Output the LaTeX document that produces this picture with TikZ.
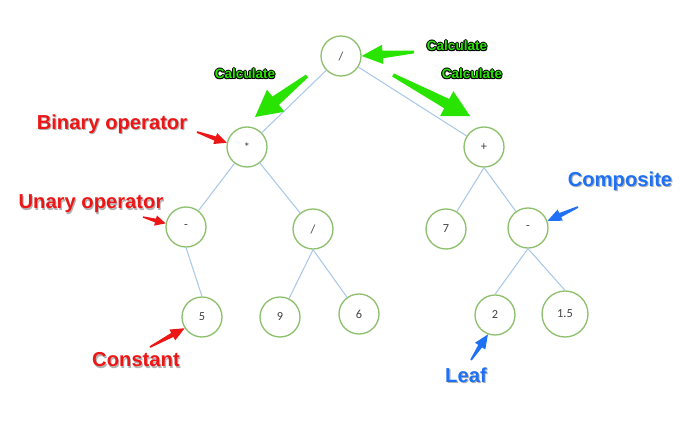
\documentclass[tikz,border=0pt]{standalone}
\usepackage{fontspec}
\setmainfont{Liberation Sans}
\newfontfamily\treefont{Carlito}
\usetikzlibrary{calc}

\definecolor{calcgreen}{RGB}{40,228,0}
\definecolor{tagred}{RGB}{236,22,22}
\definecolor{tagblue}{RGB}{30,112,245}
\definecolor{ringgreen}{RGB}{140,192,108}
\definecolor{edgeblue}{RGB}{170,200,232}

%% tapered arrow: colour, tail, tip, tail half, neck half, head half, head length
\newcommand{\fatarrow}[7]{%
  \coordinate (fa-n) at ($(#3)!#7!(#2)$);
  \fill[#1] ($(#2)!#4!90:(#3)$) -- ($(fa-n)!#5!-90:(#2)$) -- ($(fa-n)!#6!-90:(#2)$) -- (#3)
    -- ($(fa-n)!#6!90:(#2)$) -- ($(fa-n)!#5!90:(#2)$) -- ($(#2)!#4!-90:(#3)$) -- cycle;
}
%% label with a soft shadow: name, colour, position, text
\newcommand{\tagtext}[4]{%
  \node[tag,text=black!30,xshift=0.6pt,yshift=-0.8pt] (#1-sh) at (#3) {#4};
  \node[tag,text=#2] (#1) at (#3) {#4};
}
%% green label with black outline: name, position
\newcommand{\calctext}[2]{%
  \foreach \dx/\dy [count=\i] in {-0.55/0,0.55/0,0/-0.55,0/0.55,-0.45/-0.45,0.45/0.45,-0.45/0.45,0.45/-0.45}
    \node[calc tag,text=black,xshift=\dx pt,yshift=\dy pt] (#1-o\i) at (#2) {Calculate};
  \node[calc tag,text=calcgreen] (#1) at (#2) {Calculate};
}

\begin{document}
\begin{tikzpicture}[x=0.02cm,y=-0.02cm,
  tree node/.style={circle,draw=ringgreen,line width=0.75pt,minimum size=0.8cm,inner sep=0pt,
    font=\treefont\fontsize{7}{8}\selectfont,text=black!75},
  tree edge/.style={edgeblue,line width=0.6pt},
  tag/.style={font=\bfseries\fontsize{11.5}{13}\selectfont,inner sep=0pt},
  calc tag/.style={font=\bfseries\fontsize{7.7}{9}\selectfont,inner sep=0pt}]
\useasboundingbox (0,0) rectangle (695,429);

%% expression tree
\node[tree node] (n-root) at (341,56) {/};
\node[tree node] (n-mul) at (247,147) {*};
\node[tree node] (n-plus) at (484,147) {+};
\node[tree node] (n-neg) at (186,227) {-};
\node[tree node] (n-div) at (313,229) {/};
\node[tree node] (n-seven) at (446,229) {7};
\node[tree node] (n-sub) at (528,228) {-};
\node[tree node] (n-five) at (202,317) {5};
\node[tree node] (n-nine) at (280,317) {9};
\node[tree node] (n-six) at (359,314) {6};
\node[tree node] (n-two) at (495,315) {2};
\node[tree node,minimum size=0.92cm] (n-onefive) at (565,314) {1.5};

\draw[tree edge] (n-root) -- (n-mul);
\draw[tree edge] (n-root) -- (n-plus);
\draw[tree edge] (n-mul) -- (n-neg);
\draw[tree edge] (n-mul) -- (n-div);
\draw[tree edge] (n-neg.south) -- (n-five.north);
\draw[tree edge] (n-div.south) -- (n-nine);
\draw[tree edge] (n-div.south) -- (n-six);
\draw[tree edge] (n-plus.south) -- (n-seven);
\draw[tree edge] (n-plus.south) -- (n-sub);
\draw[tree edge] (n-sub.south) -- (n-two.north);
\draw[tree edge] (n-sub.south) -- (n-onefive.north);

%% calculate arrows
\coordinate (t-calc-root) at (414,52);
\coordinate (t-calc-left) at (307,76);
\coordinate (h-calc-left) at (255,117);
\coordinate (t-calc-right) at (393,75);
\coordinate (h-calc-right) at (470,116);
\fatarrow{calcgreen}{t-calc-root}{n-root.east}{0.8pt}{2.2pt}{5.5pt}{12pt}
\fatarrow{calcgreen}{t-calc-left}{h-calc-left}{1pt}{3pt}{8pt}{15pt}
\fatarrow{calcgreen}{t-calc-right}{h-calc-right}{1pt}{3pt}{8pt}{15pt}
\calctext{l-calc-root}{457,46}
\calctext{l-calc-left}{245,74}
\calctext{l-calc-right}{472,74}

%% role arrows
\coordinate (t-binary) at (197,132);
\coordinate (t-unary) at (143,217);
\coordinate (t-constant) at (150,347);
\coordinate (t-composite) at (578,207);
\coordinate (t-leaf) at (471,360);
\fatarrow{tagred}{t-binary}{n-mul.168}{0.5pt}{1.3pt}{3.3pt}{7pt}
\fatarrow{tagred}{t-unary}{n-neg.170}{0.4pt}{1.1pt}{3pt}{6pt}
\fatarrow{tagred}{t-constant}{n-five.213}{0.5pt}{1.3pt}{3.5pt}{8pt}
\fatarrow{tagblue}{t-composite}{n-sub.20}{0.5pt}{1.3pt}{3.5pt}{8pt}
\fatarrow{tagblue}{t-leaf}{n-two.250}{0.5pt}{1.3pt}{3.5pt}{8pt}

\tagtext{l-binary}{tagred}{112,124}{Binary operator}
\tagtext{l-unary}{tagred}{91,204}{Unary operator}
\tagtext{l-constant}{tagred}{136,360}{Constant}
\tagtext{l-composite}{tagblue}{620,181}{Composite}
\tagtext{l-leaf}{tagblue}{466,375}{Leaf}
\end{tikzpicture}
\end{document}
